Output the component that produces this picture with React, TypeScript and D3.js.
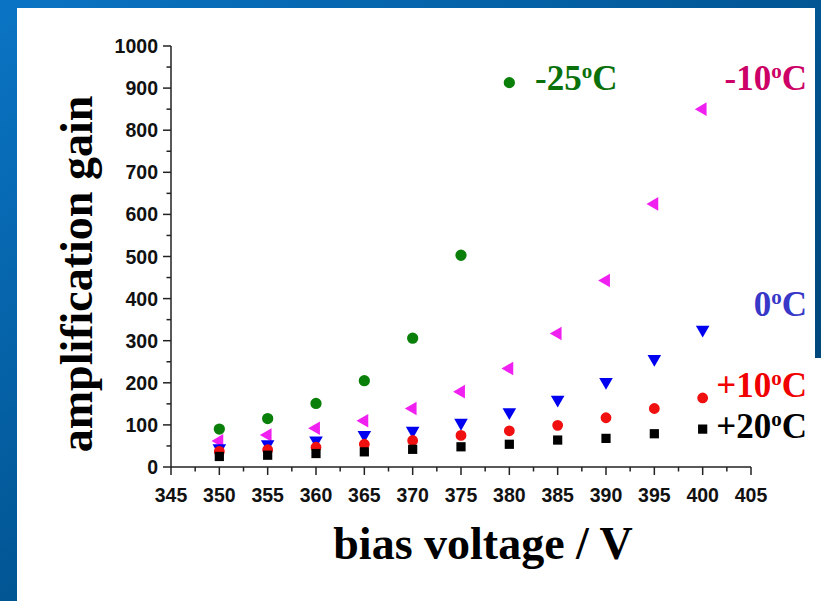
import React from "react";
import * as d3 from "d3";

const voltages = [350, 355, 360, 365, 370, 375, 380, 385, 390, 395, 400];
const gainM25 = [90, 115, 151, 205, 306, 503, 913];
const gainM10 = [62, 76, 92, 110, 139, 179, 234, 317, 443, 625, 850];
const gain0 = [45, 54, 63, 76, 86, 105, 130, 160, 202, 257, 326];
const gainP10 = [37, 41, 47, 54, 63, 75, 86, 99, 117, 139, 164];
const gainP20 = [25, 28, 32, 36, 42, 48, 54, 64, 68, 79, 90];
const xTicks = [345, 350, 355, 360, 365, 370, 375, 380, 385, 390, 395, 400, 405];
const yTicks = [0, 100, 200, 300, 400, 500, 600, 700, 800, 900, 1000];

const seriesLabels = ["-25", "-10", "0", "+10", "+20"];

export default function App() {
  const x = d3.scaleLinear().domain([345, 405]).range([171, 751]);
  const y = d3.scaleLinear().domain([0, 1000]).range([467, 46]);

  const series = [
    { name: seriesLabels[0], values: gainM25, color: "#0a800a", type: "circle", size: 100 },
    { name: seriesLabels[1], values: gainM10, color: "#f020f0", type: "left", size: 80 },
    { name: seriesLabels[2], values: gain0, color: "#0000f0", type: "down", size: 80 },
    { name: seriesLabels[3], values: gainP10, color: "#f01010", type: "circle", size: 92 },
    { name: seriesLabels[4], values: gainP20, color: "#000000", type: "square", size: 85 },
  ];

  const sym = (t: string, s: number) => {
    const typ = t === "circle" ? d3.symbolCircle : t === "square" ? d3.symbolSquare : d3.symbolTriangle;
    return d3.symbol().type(typ).size(s)() as string;
  };
  const rot = (t: string) => (t === "left" ? -90 : t === "down" ? 180 : 0);

  const minorX = d3.range(345, 405.1, 2.5).filter((v) => !xTicks.includes(v));
  const minorY = d3.range(0, 1000.1, 50).filter((v) => !yTicks.includes(v));

  const labelFont = "'Liberation Sans', Arial, sans-serif";
  const serif = "'Liberation Serif', 'Times New Roman', serif";

  const legend = [
    { text: "-25", color: "#0a700a", x: 535, y: 90, anchor: "start" },
    { text: "-10", color: "#cc0066", x: 807, y: 90, anchor: "end" },
    { text: "0", color: "#3838c8", x: 807, y: 316, anchor: "end" },
    { text: "+10", color: "#f00000", x: 807, y: 397, anchor: "end" },
    { text: "+20", color: "#000000", x: 807, y: 438, anchor: "end" },
  ];

  return (
    <svg
      width={821}
      height={601}
      style={{ position: "absolute", left: 0, top: 0 }}
    >
      <defs>
        <linearGradient id="bg" x1="0" y1="0" x2="1" y2="1">
          <stop offset="0" stopColor="#0a74c4" />
          <stop offset="0.6" stopColor="#00508a" />
          <stop offset="1" stopColor="#003e6c" />
        </linearGradient>
      </defs>
      <rect x={0} y={0} width={821} height={601} fill="url(#bg)" />
      <rect x={17} y={8} width={798} height={593} fill="#ffffff" />
      <rect x={815} y={358} width={6} height={243} fill="#ffffff" />

      {/* axes */}
      <line x1={x(345)} x2={x(405)} y1={y(0)} y2={y(0)} stroke="#222" strokeWidth={1.5} />
      <line x1={x(345)} x2={x(345)} y1={y(0)} y2={y(1000)} stroke="#222" strokeWidth={1.5} />
      {xTicks.map((t) => (
        <g key={"xt" + t}>
          <line x1={x(t)} x2={x(t)} y1={y(0)} y2={y(0) + 8} stroke="#222" strokeWidth={1.5} />
          <text
            x={x(t)}
            y={502}
            textAnchor="middle"
            fontFamily={labelFont}
            fontWeight="bold"
            fontSize={19.5}
            fill="#111"
          >
            {t}
          </text>
        </g>
      ))}
      {minorX.map((t) => (
        <line key={"xm" + t} x1={x(t)} x2={x(t)} y1={y(0)} y2={y(0) + 4.5} stroke="#222" strokeWidth={1.5} />
      ))}
      {yTicks.map((t) => (
        <g key={"yt" + t}>
          <line x1={x(345) - 8} x2={x(345)} y1={y(t)} y2={y(t)} stroke="#222" strokeWidth={1.5} />
          <text
            x={158}
            y={y(t)}
            dy="0.36em"
            textAnchor="end"
            fontFamily={labelFont}
            fontWeight="bold"
            fontSize={19.5}
            fill="#111"
          >
            {t}
          </text>
        </g>
      ))}
      {minorY.map((t) => (
        <line key={"ym" + t} x1={x(345) - 4.5} x2={x(345)} y1={y(t)} y2={y(t)} stroke="#222" strokeWidth={1.5} />
      ))}

      {/* markers */}
      {series.map((s) => (
        <g key={s.name}>
          {s.values.map((v, i) => (
            <path
              key={i}
              d={sym(s.type, s.size)}
              transform={`translate(${x(voltages[i])},${y(v)}) rotate(${rot(s.type)})`}
              fill={s.color}
            />
          ))}
        </g>
      ))}

      {/* legend labels */}
      {legend.map((l) => (
        <text
          key={l.text}
          x={l.x}
          y={l.y}
          textAnchor={l.anchor as any}
          fontFamily={serif}
          fontWeight="bold"
          fontSize={35}
          fill={l.color}
        >
          {l.text}
          <tspan fontSize={21} dy={-12}>o</tspan>
          <tspan dy={12}>C</tspan>
        </text>
      ))}

      {/* axis titles */}
      <text
        x={483}
        y={559}
        textAnchor="middle"
        fontFamily={serif}
        fontWeight="bold"
        fontSize={46}
        fill="#000"
      >
        bias voltage / V
      </text>
      <text
        transform="translate(92,274) rotate(-90)"
        textAnchor="middle"
        fontFamily={serif}
        fontWeight="bold"
        fontSize={46}
        fill="#000"
      >
        amplification gain
      </text>
    </svg>
  );
}
